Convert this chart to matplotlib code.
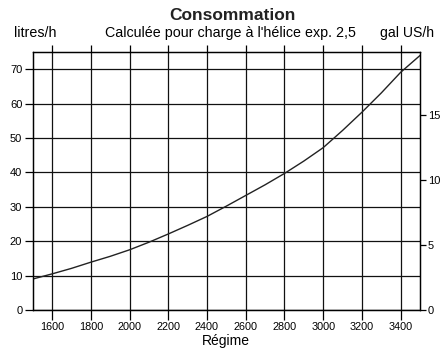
import matplotlib
matplotlib.use("Agg")
import matplotlib.pyplot as plt

# values
regime = [1500, 1600, 1700, 1800, 1900, 2000, 2100, 2200, 2300, 2400, 2500,
          2600, 2700, 2800, 2900, 3000, 3100, 3200, 3300, 3400, 3500]
litres_h = [9.0, 10.5, 12.1, 13.9, 15.6, 17.5, 19.7, 22.1, 24.6, 27.2, 30.2,
            33.3, 36.4, 39.7, 43.3, 47.2, 52.2, 57.5, 63.1, 69.1, 74.0]

x_ticks = [1600, 1800, 2000, 2200, 2400, 2600, 2800, 3000, 3200, 3400]
y_ticks = [0, 10, 20, 30, 40, 50, 60, 70]
gal_ticks = [0, 5, 10, 15]
litres_per_gal = 3.785

plt.rcParams['font.family'] = ['Liberation Sans', 'DejaVu Sans']

fig = plt.figure(figsize=(4.47, 3.54), dpi=100)
ax = fig.add_axes([0.0732, 0.1243, 0.8664, 0.7287])

ax.plot(regime, litres_h, color='#222222', lw=1.0, zorder=3)

ax.set_xlim(1500, 3500)
ax.set_ylim(0, 75)
ax.set_xticks(x_ticks)
ax.set_yticks(y_ticks)
ax.grid(True, color='#111111', lw=0.9)

for s in ax.spines.values():
    s.set_linewidth(0.9)

ax.tick_params(axis='x', direction='out', length=7, width=0.9, pad=2,
               labelsize=7.8, top=True)
ax.tick_params(axis='x', which='major', labeltop=False)
ax.tick_params(axis='y', direction='out', length=6, width=0.9, pad=1.5,
               labelsize=8)
for lab in ax.get_xticklabels():
    lab.set_family(['Liberation Sans Narrow', 'Liberation Sans'])
# shorter ticks on top
for t in ax.xaxis.get_major_ticks():
    t.tick2line.set_markersize(5)

ax2 = ax.twinx()
ax2.set_ylim(0, 75 / litres_per_gal)
ax2.set_yticks(gal_ticks)
ax2.tick_params(axis='y', direction='out', length=4, width=0.9, pad=1.5,
                labelsize=8)
for s in ax2.spines.values():
    s.set_linewidth(0.9)

ax.set_xlabel("Régime", fontsize=10, labelpad=1)

fig.text(0.521, 0.956, "Consommation", ha='center', va='center',
         fontsize=12.5, fontweight='bold', color='#222222')
fig.text(0.515, 0.907, "Calculée pour charge à l'hélice exp. 2,5",
         ha='center', va='center', fontsize=10.3)
fig.text(0.031, 0.907, "litres/h", ha='left', va='center', fontsize=10.3)
fig.text(0.971, 0.907, "gal US/h", ha='right', va='center', fontsize=10.1)

fig.savefig("out.png", dpi=100, facecolor='white')
